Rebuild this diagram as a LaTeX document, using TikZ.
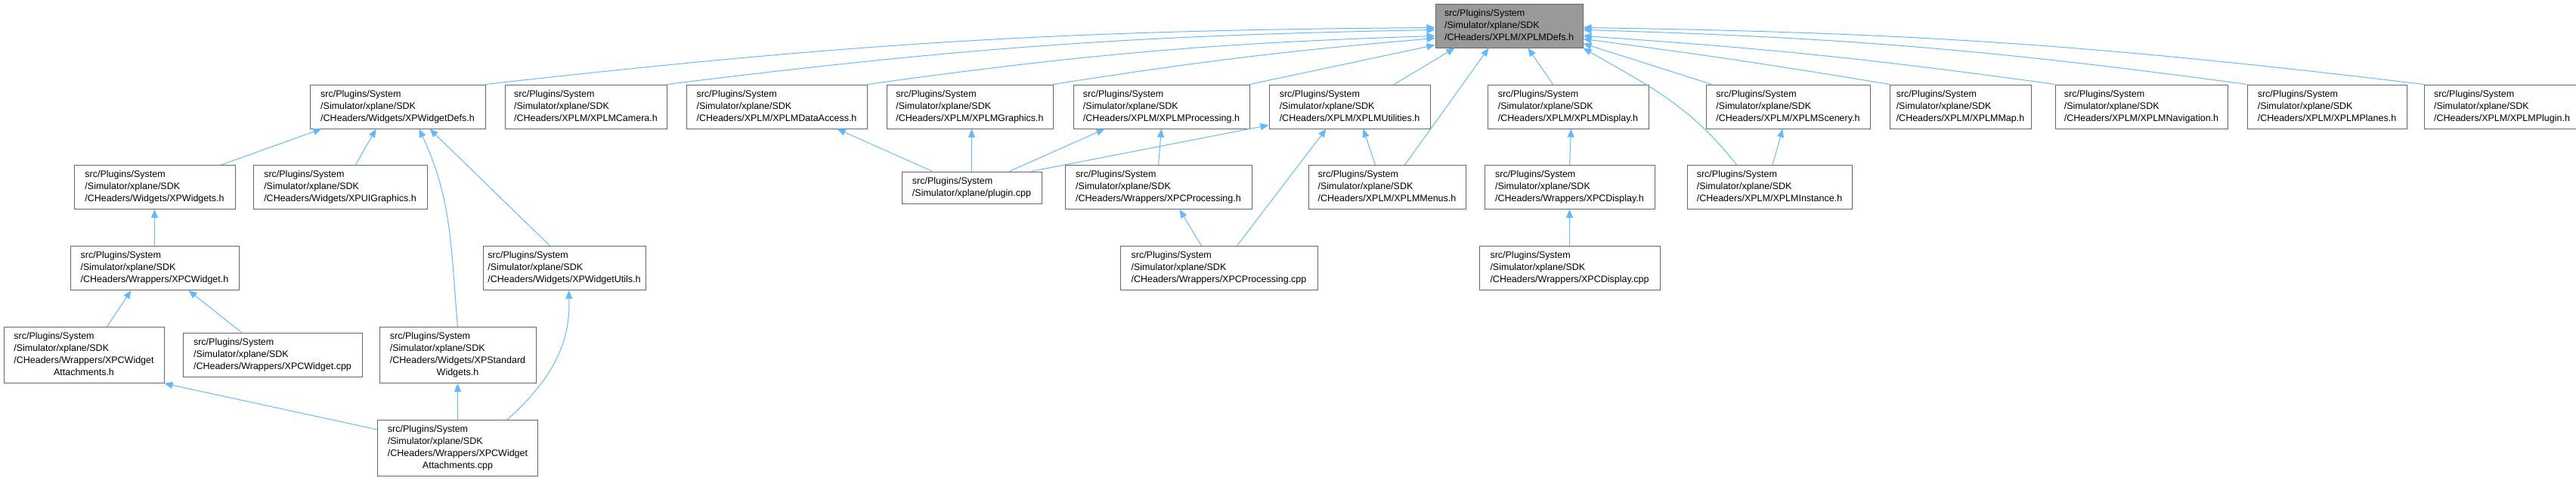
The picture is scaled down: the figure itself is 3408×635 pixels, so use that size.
\documentclass[tikz,border=0pt]{standalone}
\usepackage{fontspec}
\setmainfont{Liberation Sans}
\usetikzlibrary{arrows.meta,positioning,calc}
\definecolor{cDep}{HTML}{63B8FF}
\definecolor{cBorder}{HTML}{666666}
\definecolor{cRoot}{HTML}{999999}

\newcommand{\sdkpath}[1]{\begin{tabular}{@{}l@{}}src/Plugins/System\\/Simulator/xplane/SDK\\/CHeaders/#1\end{tabular}}
\newcommand{\sdkwrap}[2]{\begin{tabular}{@{}l@{}}src/Plugins/System\\/Simulator/xplane/SDK\\/CHeaders/#1\\\multicolumn{1}{@{}c@{}}{#2}\end{tabular}}

\begin{document}
\begin{tikzpicture}[
  x=0.25pt, y=0.25pt,
  file/.style={draw=cBorder, fill=white, line width=0.25pt, inner xsep=1.5pt,
               inner ysep=1.25pt, font=\fontsize{3.125}{4}\selectfont},
  rootfile/.style={file, fill=cRoot},
  dep/.style={-{Triangle[length=2.75pt,width=2.25pt]}, draw=cDep, line width=0.25pt},
]
\useasboundingbox (0,0) rectangle (3408,635);

% ---------------- root header ----------------
\node (root) [rootfile, minimum width=48.75pt] at (1996.5,601) {\sdkpath{XPLM/XPLMDefs.h}};

% ---------------- first rank ----------------
\node (wdefs)    [file, minimum width=58pt] at (526,494) {\sdkpath{Widgets/XPWidgetDefs.h}};
\node (camera)   [file, minimum width=53.5pt, right=6.25pt of wdefs]   {\sdkpath{XPLM/XPLMCamera.h}};
\node (dataacc)  [file, minimum width=59.75pt, right=6.25pt of camera] {\sdkpath{XPLM/XPLMDataAccess.h}};
\node (graphics) [file, minimum width=55pt, right=6.25pt of dataacc]   {\sdkpath{XPLM/XPLMGraphics.h}};
\node (procs)    [file, minimum width=58.25pt, right=6.5pt of graphics] {\sdkpath{XPLM/XPLMProcessing.h}};
\node (utils)    [file, minimum width=53.25pt, right=6.25pt of procs]  {\sdkpath{XPLM/XPLMUtilities.h}};
\node (display)  [file, minimum width=53.25pt, right=18.75pt of utils] {\sdkpath{XPLM/XPLMDisplay.h}};
\node (scenery)  [file, minimum width=54.25pt, right=18.75pt of display] {\sdkpath{XPLM/XPLMScenery.h}};
\node (map)      [file, minimum width=46.75pt, right=6.25pt of scenery] {\sdkpath{XPLM/XPLMMap.h}};
\node (navig)    [file, minimum width=57pt, right=7.75pt of map]       {\sdkpath{XPLM/XPLMNavigation.h}};
\node (planes)   [file, minimum width=52.75pt, right=6.25pt of navig]  {\sdkpath{XPLM/XPLMPlanes.h}};
\node (xplugin)  [file, minimum width=51.5pt, right=5.5pt of planes]   {\sdkpath{XPLM/XPLMPlugin.h}};

% ---------------- second rank ----------------
\node (widgets)  [file, minimum width=53.25pt] at (204.5,387.5) {\sdkpath{Widgets/XPWidgets.h}};
\node (uigfx)    [file, minimum width=57.5pt] at (450,387.5)    {\sdkpath{Widgets/XPUIGraphics.h}};
\node (plugcpp)  [file, minimum width=46.25pt] at (1285.5,387)  {%
  \begin{tabular}{@{}l@{}}src/Plugins/System\\/Simulator/xplane/plugin.cpp\end{tabular}};
\node (xpcproch) [file, minimum width=61.75pt] at (1532.5,387.5) {\sdkpath{Wrappers/XPCProcessing.h}};
\node (menus)    [file, minimum width=52pt] at (1835,387.5)      {\sdkpath{XPLM/XPLMMenus.h}};
\node (xpcdisph) [file, minimum width=56.25pt] at (2076.5,387.5) {\sdkpath{Wrappers/XPCDisplay.h}};
\node (instance) [file, minimum width=54.5pt] at (2341,387.5)    {\sdkpath{XPLM/XPLMInstance.h}};

% ---------------- third rank ----------------
\node (xpcwidh)  [file, minimum width=55.75pt, below=12pt of widgets] {\sdkpath{Wrappers/XPCWidget.h}};
\node (wutils)   [file, minimum width=53.75pt] at (746.5,280.5)  {\sdkpath{Widgets/XPWidgetUtils.h}};
\node (xpcprocc) [file, minimum width=65.25pt] at (1612.5,280.5) {\sdkpath{Wrappers/XPCProcessing.cpp}};
\node (xpcdispc) [file, minimum width=59.75pt, below=12pt of xpcdisph] {\sdkpath{Wrappers/XPCDisplay.cpp}};

% ---------------- fourth and fifth rank ----------------
\node (attachh)  [file, minimum width=53pt] at (111,165.5)    {\sdkwrap{Wrappers/XPCWidget}{Attachments.h}};
\node (xpcwidc)  [file, minimum width=59.25pt] at (360.5,166) {\sdkpath{Wrappers/XPCWidget.cpp}};
\node (stdwid)   [file, minimum width=51.75pt] at (605.5,165.5) {\sdkwrap{Widgets/XPStandard}{Widgets.h}};
\node (attachc)  [file, minimum width=53pt, below=12pt of stdwid] {\sdkwrap{Wrappers/XPCWidget}{Attachments.cpp}};

% ---------------- includes of the root header ----------------
\draw[dep] (wdefs.north east)    to[bend left=3] ($(root.north west)+(0,-32)$);
\draw[dep] (camera.north east)   to[bend left=3] ($(root.north west)+(0,-35)$);
\draw[dep] (dataacc.north east)  to[bend left=3] ($(root.north west)+(0,-43)$);
\draw[dep] (graphics.north east) to[bend left=2] ($(root.north west)+(0,-46)$);
\draw[dep] (procs.north east) -- ($(root.north west)+(0,-55)$);
\draw[dep] ($(utils.north west)+(166,0)$)  -- ($(root.south west)+(26,0)$);
\draw[dep] ($(menus.north west)+(128,0)$)  -- ($(root.south west)+(71,0)$);
\draw[dep] ($(display.north west)+(87,0)$) -- ($(root.south west)+(123,0)$);
\draw[dep] ($(instance.north west)+(66,0)$) to[out=128,in=-30] (root.south east);
\draw[dep] ($(scenery.north west)+(8,0)$) -- ($(root.south east)+(0,6)$);
\draw[dep] (map.north west)     to[bend right=1] ($(root.north east)+(0,-47)$);
\draw[dep] (navig.north west)   to[bend right=2] ($(root.north east)+(0,-43)$);
\draw[dep] (planes.north west)  to[bend right=3] ($(root.north east)+(0,-35)$);
\draw[dep] (xplugin.north west) to[bend right=3] ($(root.north east)+(0,-32)$);

% ---------------- widget headers ----------------
\draw[dep] ($(widgets.north east)+(-19,0)$) -- ($(wdefs.south west)+(16,0)$);
\draw[dep] ($(uigfx.north west)+(136,0)$)   -- ($(wdefs.south west)+(88,0)$);
\draw[dep] (stdwid.north) to[out=95,in=-65] ($(wdefs.south west)+(145,0)$);
\draw[dep] ($(wutils.north west)+(89,0)$)   -- ($(wdefs.south west)+(159,0)$);
\draw[dep] (xpcwidh.north) -- (widgets.south);
\draw[dep] ($(attachh.north west)+(137,0)$) -- ($(xpcwidh.south west)+(81,0)$);
\draw[dep] ($(xpcwidc.north west)+(78,0)$)  -- ($(xpcwidh.south west)+(157,0)$);
\draw[dep] ($(attachc.north west)+(0,-13)$) -- (attachh.south east);
\draw[dep] (attachc.north) -- (stdwid.south);
\draw[dep] ($(attachc.north west)+(172,0)$) to[out=42,in=-88] ($(wutils.south)+(6,0)$);

% ---------------- plugin and wrappers ----------------
\draw[dep] ($(plugcpp.north west)+(41,0)$)  -- ($(dataacc.south west)+(200,0)$);
\draw[dep] (plugcpp.north) -- (plugcpp.north |- graphics.south);
\draw[dep] ($(plugcpp.north west)+(143,0)$) -- ($(procs.south west)+(42,0)$);
\draw[dep] ($(plugcpp.north east)+(-14,0)$) -- ($(utils.south west)+(0,5)$);
\draw[dep] (xpcproch.north) -- (procs.south);
\draw[dep] ($(menus.north west)+(89,0)$)    -- ($(utils.south west)+(125,0)$);
\draw[dep] ($(xpcprocc.north west)+(108,0)$) -- ($(xpcproch.south west)+(152,0)$);
\draw[dep] ($(xpcprocc.north west)+(155,0)$) -- ($(utils.south west)+(76,0)$);
\draw[dep] (xpcdisph.north) -- ($(display.south)+(4,0)$);
\draw[dep] (xpcdispc.north) -- (xpcdisph.south);
\draw[dep] ($(instance.north)+(4,0)$) -- ($(scenery.south)+(-7,0)$);

\end{tikzpicture}
\end{document}
